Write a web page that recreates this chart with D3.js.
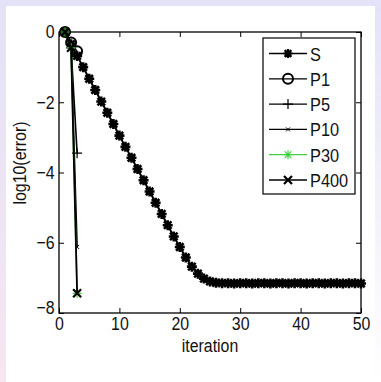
<!DOCTYPE html>
<html>
<head>
<meta charset="utf-8">
<script src="https://cdn.jsdelivr.net/npm/d3@7"></script>
<style>
  html, body { margin: 0; padding: 0; }
  body { width: 381px; height: 382px; overflow: hidden; background: #fff; }
  text { font-family: "Liberation Sans", Arial, Helvetica, sans-serif; }
</style>
</head>
<body>
<div id="vis"></div>
<script>
// iterations and log10(error)
var iterS = d3.range(1, 51);
var errS = [0, -0.35, -0.68, -1.0, -1.33, -1.65, -1.98, -2.3, -2.62, -2.95,
  -3.27, -3.58, -3.9, -4.22, -4.54, -4.86, -5.18, -5.5, -5.82, -6.12,
  -6.42, -6.68, -6.88, -7.02, -7.1, -7.14, -7.15, -7.15, -7.16, -7.15,
  -7.15, -7.16, -7.15, -7.15, -7.16, -7.15, -7.15, -7.16, -7.15, -7.15,
  -7.16, -7.15, -7.15, -7.16, -7.15, -7.15, -7.16, -7.15, -7.15, -7.16];
var iterP = [1, 2, 3];
var errP1 = [0, -0.3, -0.55];
var errP5 = [0, -0.45, -3.45];
var errP10 = [0, -0.45, -6.12];
var errP30 = [0, -0.45, -7.44];
var errP400 = [0, -0.45, -7.44];

var xTicks = [0, 10, 20, 30, 40, 50];
var yTicks = [0, -2, -4, -6, -8];

var W = 381, H = 382;
var margin = {top: 32, right: 20, bottom: 69, left: 59};
var width = 361 - margin.left;
var height = 313 - margin.top;
var squeeze = 'scale(0.86,1)';

var svg = d3.select('#vis').append('svg')
  .attr('width', W)
  .attr('height', H);

// page frame like the screenshot
var defs = svg.append('defs');
var grad = defs.append('linearGradient').attr('id', 'leftg')
  .attr('x1', 0).attr('y1', 0).attr('x2', 0).attr('y2', 1);
grad.append('stop').attr('offset', '0%').attr('stop-color', '#e4e2f8');
grad.append('stop').attr('offset', '100%').attr('stop-color', '#f5e6f0');
var grad2 = defs.append('linearGradient').attr('id', 'rightg')
  .attr('x1', 0).attr('y1', 0).attr('x2', 0).attr('y2', 1);
grad2.append('stop').attr('offset', '0%').attr('stop-color', '#e4e2f8');
grad2.append('stop').attr('offset', '100%').attr('stop-color', '#ffffff');
svg.append('rect').attr('x', 0).attr('y', 0).attr('width', 6).attr('height', H).attr('fill', 'url(#leftg)');
svg.append('rect').attr('x', 0).attr('y', 0).attr('width', W).attr('height', 6).attr('fill', '#e4e2f8');
svg.append('rect').attr('x', 375).attr('y', 0).attr('width', 6).attr('height', H).attr('fill', 'url(#rightg)');

var g = svg.append('g')
  .attr('transform', 'translate(' + margin.left + ',' + margin.top + ')');

var x = d3.scaleLinear().domain([0, 50]).range([0, width]);
var y = d3.scaleLinear().domain([-8, 0]).range([height, 0]);

// ticks inside, on all four sides
g.append('g').attr('class', 'xax').attr('transform', 'translate(0,' + height + ')')
  .call(d3.axisBottom(x).tickValues(xTicks).tickSizeInner(-5).tickSizeOuter(0).tickPadding(4))
  .call(function (a) { a.select('.domain').remove(); });
g.append('g')
  .call(d3.axisTop(x).tickValues(xTicks).tickSizeInner(-5).tickSizeOuter(0).tickFormat(''))
  .call(function (a) { a.select('.domain').remove(); });
g.append('g').attr('class', 'yax')
  .call(d3.axisLeft(y).tickValues(yTicks).tickSizeInner(-5).tickSizeOuter(0).tickPadding(5)
    .tickFormat(function (d) { return d === 0 ? '0' : '\u2212' + Math.abs(d); }))
  .call(function (a) { a.select('.domain').remove(); });
g.append('g').attr('transform', 'translate(' + width + ',0)')
  .call(d3.axisRight(y).tickValues(yTicks).tickSizeInner(-5).tickSizeOuter(0).tickFormat(''))
  .call(function (a) { a.select('.domain').remove(); });

g.selectAll('.tick line').attr('stroke', '#000').attr('stroke-width', 1);
g.selectAll('.tick text').attr('font-size', '18.5px').attr('fill', '#111')
  .style('font-family', '"Liberation Sans", Arial, Helvetica, sans-serif')
  .attr('transform', squeeze);
// matlab puts the -8 label a bit higher
g.select('.yax').selectAll('.tick text').attr('dy', function (d) { return d === -8 ? '0.05em' : '0.32em'; });

g.append('rect').attr('x', 0).attr('y', 0).attr('width', width).attr('height', height)
  .attr('fill', 'none').attr('stroke', '#000').attr('stroke-width', 1.3);

var line = d3.line()
  .x(function (d) { return x(d[0]); })
  .y(function (d) { return y(d[1]); });

function pairs(xs, ys) { return xs.map(function (v, i) { return [v, ys[i]]; }); }

// marker shapes
function marker(sel, type, color, sw, s) {
  s = s || 4.5;
  if (type === 'star') {
    sel.append('path').attr('d', 'M' + -s + ',0H' + s + 'M0,' + -s + 'V' + s +
      'M' + -s * 0.75 + ',' + -s * 0.75 + 'L' + s * 0.75 + ',' + s * 0.75 +
      'M' + -s * 0.75 + ',' + s * 0.75 + 'L' + s * 0.75 + ',' + -s * 0.75)
      .attr('stroke', color).attr('stroke-width', sw).attr('fill', 'none');
  } else if (type === 'circle') {
    sel.append('circle').attr('r', 5).attr('fill', 'none').attr('stroke', color).attr('stroke-width', 2);
  } else if (type === 'plus') {
    sel.append('path').attr('d', 'M-5,0H5M0,-5V5').attr('stroke', color).attr('stroke-width', 1.2);
  } else if (type === 'dot') {
    sel.append('path').attr('d', 'M-2,-2L2,2M-2,2L2,-2').attr('stroke', color).attr('stroke-width', 1);
  } else if (type === 'x') {
    sel.append('path').attr('d', 'M-4,-4L4,4M-4,4L4,-4').attr('stroke', color).attr('stroke-width', 2.2);
  }
}

var series = [
  {name: 'S', data: pairs(iterS, errS), color: '#000', marker: 'star', lw: 2, msw: 2.6, ms: 5},
  {name: 'P1', data: pairs(iterP, errP1), color: '#000', marker: 'circle', lw: 1.4, msw: 2},
  {name: 'P5', data: pairs(iterP, errP5), color: '#000', marker: 'plus', lw: 1.6, msw: 1.2},
  {name: 'P10', data: pairs(iterP, errP10), color: '#000', marker: 'dot', lw: 1.6, msw: 1},
  {name: 'P30', data: pairs(iterP, errP30), color: '#3fcf3f', marker: 'star', lw: 1.4, msw: 1.2},
  {name: 'P400', data: pairs(iterP, errP400), color: '#000', marker: 'x', lw: 1.8, msw: 2.2}
];

series.forEach(function (s) {
  g.append('path').datum(s.data).attr('d', line)
    .attr('fill', 'none').attr('stroke', s.color).attr('stroke-width', s.lw);
  g.selectAll('.m-' + s.name).data(s.data).enter().append('g')
    .attr('class', 'm-' + s.name)
    .attr('transform', function (d) { return 'translate(' + x(d[0]) + ',' + y(d[1]) + ')'; })
    .each(function () { marker(d3.select(this), s.marker, s.color, s.msw, s.ms); });
});

// legend
var lg = svg.append('g').attr('transform', 'translate(263,38)');
lg.append('rect').attr('width', 92).attr('height', 156)
  .attr('fill', '#fff').attr('stroke', '#000').attr('stroke-width', 1.2);
series.forEach(function (s, i) {
  var yy = 15.5 + i * 25.3;
  lg.append('line').attr('x1', 6).attr('x2', 44).attr('y1', yy).attr('y2', yy)
    .attr('stroke', s.color).attr('stroke-width', 1.3);
  var mg = lg.append('g').attr('transform', 'translate(25,' + yy + ')');
  marker(mg, s.marker, s.color, s.name === 'S' ? 2.2 : s.msw);
  lg.append('text').attr('transform', 'translate(47,' + (yy + 7) + ') ' + squeeze)
    .attr('font-size', '19px').attr('fill', '#111').text(s.name);
});

// axis titles
svg.append('text').attr('transform', 'translate(210,352) ' + squeeze).attr('text-anchor', 'middle')
  .attr('font-size', '18.5px').attr('fill', '#111').text('iteration');
svg.append('text').attr('transform', 'translate(26,163) rotate(-90) ' + squeeze)
  .attr('text-anchor', 'middle').attr('font-size', '18.5px').attr('fill', '#111').text('log10(error)');
</script>
</body>
</html>
